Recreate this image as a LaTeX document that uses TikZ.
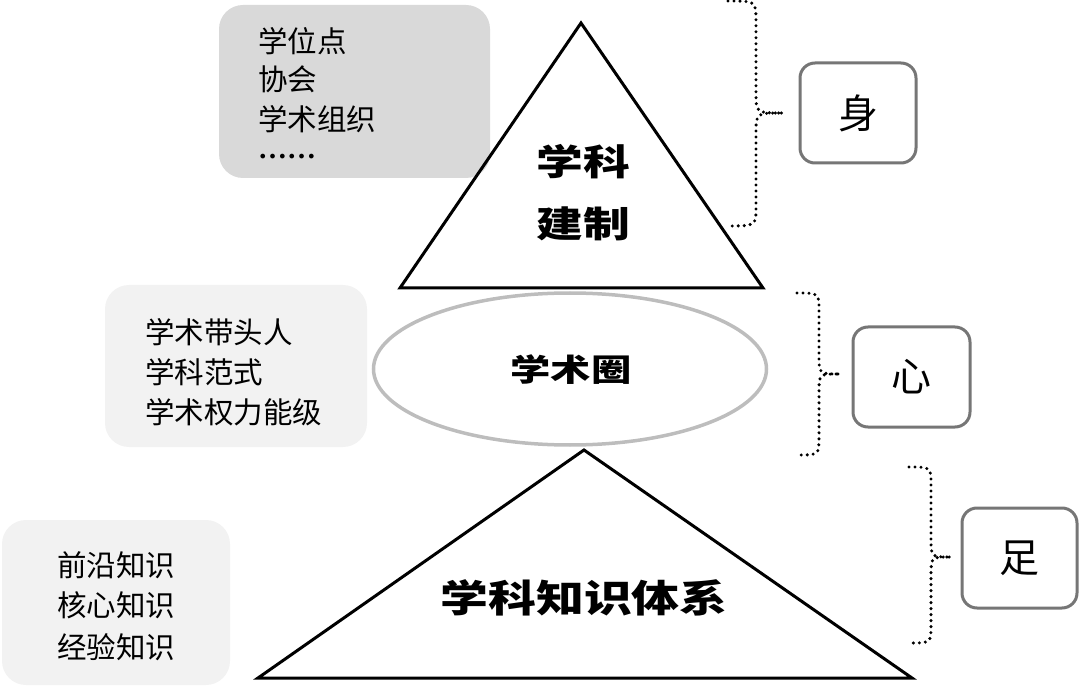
\documentclass[tikz,border=0pt]{standalone}
\usepackage{fontspec}
\newfontfamily\cjk{Noto Sans CJK SC}
\newfontfamily\latinfont{Liberation Serif}
\usetikzlibrary{shapes.geometric}
\definecolor{boxA}{HTML}{D9D9D9}
\definecolor{boxB}{HTML}{F2F2F2}
\definecolor{edgeG}{HTML}{767676}
\definecolor{ringG}{HTML}{BDBDBD}
\tikzset{
  panel/.style={rounded corners=24pt, inner sep=0pt, draw=none},
  item/.style={anchor=base west, inner sep=0pt, font=\cjk\fontsize{29.5}{35}\selectfont},
  tri/.style={draw=black, line width=3pt, line join=miter},
  tag/.style={draw=edgeG, line width=3pt, rounded corners=15pt, fill=white,
    minimum height=100pt, inner sep=0pt, font=\cjk\fontsize{40}{44}\selectfont},
  bigtext/.style={inner sep=0pt},
  brace/.style={line width=3.4pt, line cap=round, dash pattern=on 0pt off 6pt}
}
\newcommand{\bracepath}[7]{% xend xv xt ytop ymid ybot r
  \draw[brace] (#1,#4) .. controls (#2,#4) .. (#2,#4+#7) -- (#2,#5-#7)
    .. controls (#2,#5) .. (#3,#5) .. controls (#2,#5) .. (#2,#5+#7)
    -- (#2,#6-#7) .. controls (#2,#6) .. (#1,#6);}
\begin{document}
\begin{tikzpicture}[x=1pt,y=-1pt]
\useasboundingbox (0,0) rectangle (1080,687);

% left panels
\node[panel, fill=boxA, minimum width=271pt, minimum height=173pt] (p1) at (354.5,91.5) {};
\node[panel, fill=boxB, minimum width=262pt, minimum height=162pt] (p2) at (236,366) {};
\node[panel, fill=boxB, minimum width=228pt, minimum height=165pt] (p3) at (116,602.5) {};

\node[item] (p1a) at (258,53) {学位点};
\node[item] (p1b) at (258,91) {协会};
\node[item] (p1c) at (258,131) {学术组织};
\node[item, font=\latinfont\bfseries\fontsize{29}{35}\selectfont] (p1d) at (258,158.5) {……};

\node[item] (p2a) at (145,344) {学术带头人};
\node[item] (p2b) at (145,383) {学科范式};
\node[item] (p2c) at (145,423) {学术权力能级};

\node[item] (p3a) at (57,576) {前沿知识};
\node[item] (p3b) at (57,616) {核心知识};
\node[item] (p3c) at (57,658) {经验知识};

% top triangle
\coordinate (t1a) at (581,23);
\coordinate (t1l) at (400,288);
\coordinate (t1r) at (763,288);
\draw[tri] (t1a) -- (t1l) -- (t1r) -- cycle;
\node[bigtext] (t1t1) at (583,162) {\scalebox{1.3}[1]{\cjk\bfseries\fontsize{36}{40}\selectfont 学科}};
\node[bigtext] (t1t2) at (583,224) {\scalebox{1.3}[1]{\cjk\bfseries\fontsize{36}{40}\selectfont 建制}};

% ellipse
\node[ellipse, draw=ringG, line width=3.5pt, minimum width=393pt, minimum height=152pt, inner sep=0pt] (ring) at (570,369) {};
\node[bigtext] (ringt) at (571,370) {\scalebox{1.3}[1]{\cjk\bfseries\fontsize{31}{35}\selectfont 学术圈}};

% bottom triangle
\coordinate (t2a) at (584,450);
\coordinate (t2l) at (258,678);
\coordinate (t2r) at (912,678);
\draw[tri] (t2a) -- (t2l) -- (t2r) -- cycle;
\node[bigtext] (t2t) at (584,598) {\scalebox{1.26}[1]{\cjk\bfseries\fontsize{38}{42}\selectfont 学科知识体系}};

% right tags
\node[tag, minimum width=116pt] (s1) at (858,113) {身};
\node[tag, minimum width=117pt] (s2) at (911.5,377) {心};
\node[tag, minimum width=115pt] (s3) at (1019.5,558) {足};

% braces
\bracepath{728}{756}{783}{1}{113}{226}{20}
\bracepath{797}{819}{840}{293}{374}{455}{18}
\bracepath{909}{931}{951}{467}{557}{643}{18}
\end{tikzpicture}
\end{document}
